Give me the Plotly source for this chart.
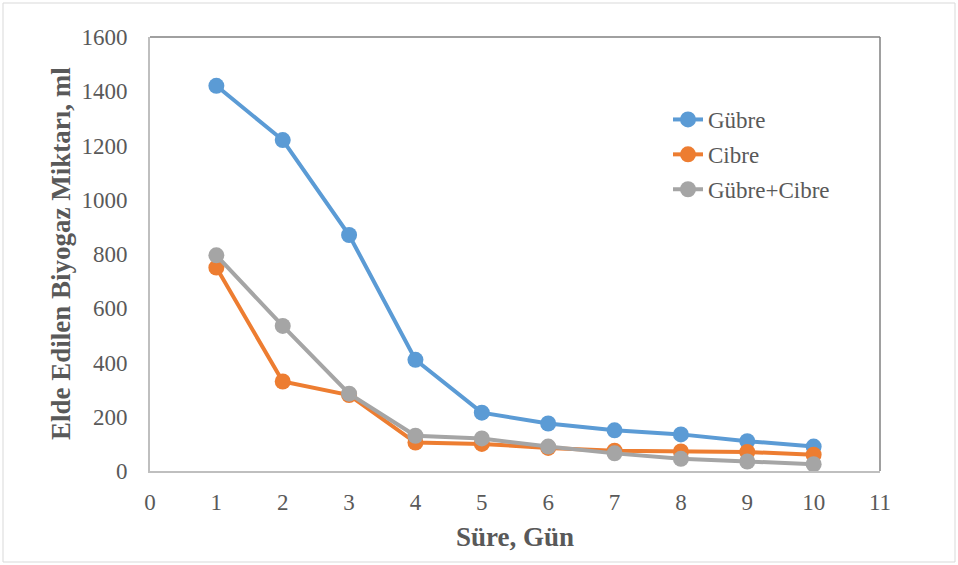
import plotly.graph_objects as go

# Daily biogas yield per feedstock
days = [1, 2, 3, 4, 5, 6, 7, 8, 9, 10]
gubre = [1420, 1220, 870, 410, 215, 175, 150, 135, 110, 90]
cibre = [750, 330, 280, 105, 100, 85, 75, 72, 70, 60]
gubre_cibre = [795, 535, 285, 130, 120, 90, 65, 45, 35, 25]

series_names = ["Gübre", "Cibre", "Gübre+Cibre"]
series_values = [gubre, cibre, gubre_cibre]
series_colors = ["#5B9BD5", "#ED7D31", "#A5A5A5"]

x_ticks = list(range(0, 12))
y_ticks = list(range(0, 1601, 200))

x_title = "Süre, Gün"
y_title = "Elde Edilen Biyogaz Miktarı, ml"

W, H = 958, 565
L, R, T, B = 150, 78, 37, 94
pw, ph = W - L - R, H - T - B

fig = go.Figure()
for i, (name, vals, col) in enumerate(zip(series_names, series_values, series_colors)):
    fig.add_trace(go.Scatter(
        x=days, y=vals, name=name, mode="lines+markers",
        line=dict(color=col, width=4),
        marker=dict(color=col, size=16),
        legendgroup=f"g{i}",
    ))

font_family = "Liberation Serif, Times New Roman, serif"
text_col = "#595959"
tick_size = 23
title_size = 27

fig.update_layout(
    width=W, height=H,
    margin=dict(l=L, r=R, t=T, b=B),
    paper_bgcolor="white", plot_bgcolor="white",
    font=dict(family=font_family, color=text_col, size=tick_size),
    showlegend=True,
    legend=dict(
        x=(668 - L) / pw, y=(H - 98 - B) / ph, xanchor="left", yanchor="top",
        bgcolor="rgba(0,0,0,0)", font=dict(size=tick_size, color=text_col),
        traceorder="grouped", tracegroupgap=2,
    ),
    xaxis=dict(
        range=[0, 11], tickvals=x_ticks, showgrid=False, zeroline=False,
        showline=True, linecolor="#BFBFBF", linewidth=2,
        ticks="", ticklabelstandoff=9,
        tickfont=dict(size=tick_size, color=text_col),
        title=dict(text=f"<b>{x_title}</b>", font=dict(size=title_size, color=text_col), standoff=14),
    ),
    yaxis=dict(
        range=[0, 1600], tickvals=y_ticks, showgrid=False, zeroline=False,
        showline=True, linecolor="#BFBFBF", linewidth=2,
        ticks="", ticklabelstandoff=16,
        tickfont=dict(size=tick_size, color=text_col),
    ),
)

# vertical axis title placed as a rotated annotation
fig.add_annotation(
    text=f"<b>{y_title}</b>", textangle=-90, showarrow=False,
    xref="paper", yref="paper", x=(61 - L) / pw, y=0.5,
    xanchor="center", yanchor="middle",
    font=dict(size=title_size, color=text_col, family=font_family),
)

# thin frame on top and right of the plotting area
fig.add_shape(type="line", xref="paper", yref="paper", x0=0, x1=1, y0=1, y1=1,
              line=dict(color="#808080", width=1.5))
fig.add_shape(type="line", xref="paper", yref="paper", x0=1, x1=1, y0=0, y1=1,
              line=dict(color="#808080", width=1.5))

# outer chart border
fig.add_shape(type="rect", xref="paper", yref="paper",
              x0=(3 - L) / pw, x1=(955 - L) / pw,
              y0=(H - 562 - B) / ph, y1=(H - 3 - B) / ph,
              line=dict(color="#D9D9D9", width=1), layer="below")

fig.write_html("out.html")
